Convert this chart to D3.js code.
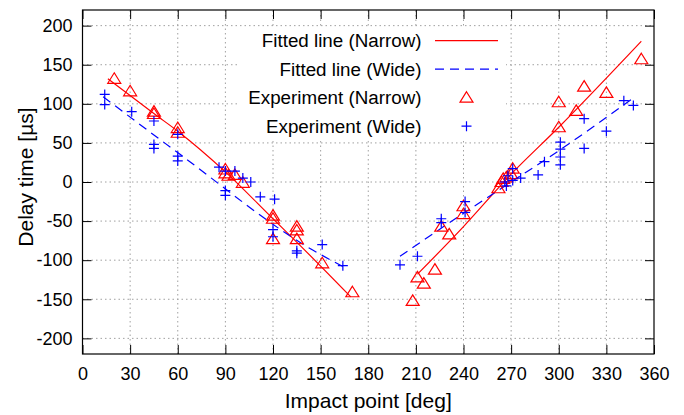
<!DOCTYPE html>
<html>
<head>
<meta charset="utf-8">
<script src="https://cdn.jsdelivr.net/npm/d3@7"></script>
<style>
  body { margin: 0; background: #fff; }
  svg text { font-family: "Liberation Sans", Arial, sans-serif; fill: #000; }
</style>
</head>
<body>
<div id="chart"></div>
<script>
// measured data [deg, delay us]
const narrowPoints = [
  [20, 132], [30, 116], [45, 90], [45, 87], [60, 69], [60, 63],
  [90, 16], [90, 11], [92, 8], [96, 9], [101, -1],
  [120, -43], [120, -47], [120, -73], [135, -57], [135, -62], [135, -73],
  [151, -104], [170, -141],
  [208, -152], [211, -122], [215, -130], [222, -112], [226, -57], [231, -67],
  [240, -31], [240, -41], [262, -8], [264, 0], [265, 4], [267, 6],
  [270, 10], [271, 17], [300, 70], [300, 102], [311, 91], [316, 122],
  [330, 114], [352, 157]
];

const widePoints = [
  [14, 112], [14, 99], [31, 90], [45, 78], [45, 48], [45, 43],
  [60, 61], [60, 33], [60, 27], [86, 19], [90, 14], [90, -11], [90, -17],
  [96, 14], [101, 5], [106, 0], [112, -19], [121, -22], [120, -61], [120, -70],
  [135, -88], [135, -91], [151, -80], [164, -107],
  [200, -106], [211, -95], [226, -47], [226, -52], [241, -25], [241, -39],
  [266, 0], [267, -5], [268, 8], [271, 17], [271, 2], [276, 5], [287, 9],
  [291, 26], [301, 51], [301, 42], [301, 32], [301, 22], [316, 81], [316, 43],
  [330, 65], [341, 104], [347, 98]
];

// fitted curves
const narrowFitLeft = [[16, 132], [46, 86], [60, 65], [90, 13], [120, -47], [137, -81], [169, -147]];
const narrowFitRight = [[211, -118], [240, -57], [270, 10], [300, 70], [352, 180]];
const wideFitLeft = [[13, 109], [61, 36], [145, -87], [164, -108]];
const wideFitRight = [[200, -95], [240, -40], [270, 0], [300, 40], [346, 106]];

const xTicks = d3.range(0, 361, 30);
const yTicks = d3.range(-200, 201, 50);

const legendLabels = ["Fitted line (Narrow)", "Fitted line (Wide)", "Experiment (Narrow)", "Experiment (Wide)"];

const width = 684, height = 415;
const margin = { left: 82.5, right: 30, top: 10, bottom: 61 };

const svg = d3.select("#chart").append("svg")
  .attr("width", width)
  .attr("height", height);

const x = d3.scaleLinear().domain([0, 360]).range([margin.left, width - margin.right]);
const y = d3.scaleLinear().domain([-220, 220]).range([height - margin.bottom, margin.top]);

const x0 = x.range()[0], x1 = x.range()[1];
const y0 = y.range()[0], y1 = y.range()[1];

// grid
const grid = svg.append("g")
  .attr("stroke", "#a0a0a0")
  .attr("stroke-width", 1)
  .attr("stroke-dasharray", "1.5,3");
grid.selectAll(".gx").data(xTicks.filter(d => d > 0 && d < 360)).enter().append("line")
  .attr("x1", d => x(d)).attr("x2", d => x(d))
  .attr("y1", y0).attr("y2", y1);
grid.selectAll(".gy").data(yTicks).enter().append("line")
  .attr("x1", x0).attr("x2", x1)
  .attr("y1", d => y(d)).attr("y2", d => y(d));

// opaque key box
const key = { x: 238, y: 27, w: 268, h: 113, rowH: 28.5 };
svg.append("rect")
  .attr("x", key.x).attr("y", key.y)
  .attr("width", key.w).attr("height", key.h)
  .attr("fill", "#fff");

// axes with inward ticks, mirrored
const tickLen = 9;
const fmt = d => String(d); // plain hyphen minus like gnuplot
svg.append("g")
  .attr("transform", `translate(0,${y0})`)
  .call(d3.axisBottom(x).tickValues(xTicks).tickSize(-tickLen).tickPadding(13).tickFormat(fmt))
  .call(g => g.select(".domain").remove());
svg.append("g")
  .attr("transform", `translate(0,${y1})`)
  .call(d3.axisTop(x).tickValues(xTicks).tickSize(-tickLen).tickFormat(""))
  .call(g => g.select(".domain").remove());
svg.append("g")
  .attr("transform", `translate(${x0},0)`)
  .call(d3.axisLeft(y).tickValues(yTicks).tickSize(-tickLen).tickPadding(10).tickFormat(fmt))
  .call(g => g.select(".domain").remove());
svg.append("g")
  .attr("transform", `translate(${x1},0)`)
  .call(d3.axisRight(y).tickValues(yTicks).tickSize(-tickLen).tickFormat(""))
  .call(g => g.select(".domain").remove());

svg.selectAll(".tick line").attr("stroke", "#000").attr("stroke-width", 1);
svg.selectAll(".tick text").style("font-size", "18px").attr("fill", "#000");

svg.append("rect")
  .attr("x", x0).attr("y", y1)
  .attr("width", x1 - x0).attr("height", y0 - y1)
  .attr("fill", "none").attr("stroke", "#000").attr("stroke-width", 1.2);

// axis titles
svg.append("text")
  .attr("x", (x0 + x1) / 2).attr("y", 408)
  .attr("text-anchor", "middle")
  .style("font-size", "21px")
  .text("Impact point [deg]");
svg.append("text")
  .attr("transform", `translate(25,177) rotate(-90)`)
  .attr("text-anchor", "middle")
  .attr("dominant-baseline", "central")
  .style("font-size", "21px")
  .text("Delay time [µs]");

// fitted curves
const line = d3.line().x(d => x(d[0])).y(d => y(d[1])).curve(d3.curveMonotoneX);
[narrowFitLeft, narrowFitRight].forEach(pts => {
  svg.append("path").attr("d", line(pts))
    .attr("fill", "none").attr("stroke", "#ff0000").attr("stroke-width", 1.2);
});
[wideFitLeft, wideFitRight].forEach(pts => {
  svg.append("path").attr("d", line(pts))
    .attr("fill", "none").attr("stroke", "#0000ff").attr("stroke-width", 1.2)
    .attr("stroke-dasharray", "9,6");
});

// markers
const tri = (cx, cy) => `M${cx},${cy - 6}L${cx + 6.5},${cy + 4.5}L${cx - 6.5},${cy + 4.5}Z`;
const plus = (cx, cy) => `M${cx - 5},${cy}H${cx + 5}M${cx},${cy - 5}V${cy + 5}`;

svg.append("g").selectAll("path").data(narrowPoints).enter().append("path")
  .attr("d", d => tri(x(d[0]), y(d[1])))
  .attr("fill", "none").attr("stroke", "#ff0000").attr("stroke-width", 1.2);

svg.append("g").selectAll("path").data(widePoints).enter().append("path")
  .attr("d", d => plus(x(d[0]), y(d[1])))
  .attr("fill", "none").attr("stroke", "#0000ff").attr("stroke-width", 1.2);

// legend
const lg = svg.append("g");
const rowY = i => key.y + 13.7 + i * key.rowH;
lg.selectAll("text").data(legendLabels).enter().append("text")
  .attr("x", 421.5).attr("y", (d, i) => rowY(i))
  .attr("text-anchor", "end")
  .attr("dominant-baseline", "central")
  .style("font-size", "18.8px")
  .text(d => d);
lg.append("line").attr("x1", 435).attr("x2", 498).attr("y1", rowY(0)).attr("y2", rowY(0))
  .attr("stroke", "#ff0000").attr("stroke-width", 1.2);
lg.append("line").attr("x1", 435).attr("x2", 498).attr("y1", rowY(1)).attr("y2", rowY(1))
  .attr("stroke", "#0000ff").attr("stroke-width", 1.2).attr("stroke-dasharray", "9,6");
lg.append("path").attr("d", tri(466.5, rowY(2)))
  .attr("fill", "none").attr("stroke", "#ff0000").attr("stroke-width", 1.2);
lg.append("path").attr("d", plus(466.5, rowY(3)))
  .attr("fill", "none").attr("stroke", "#0000ff").attr("stroke-width", 1.2);
</script>
</body>
</html>
